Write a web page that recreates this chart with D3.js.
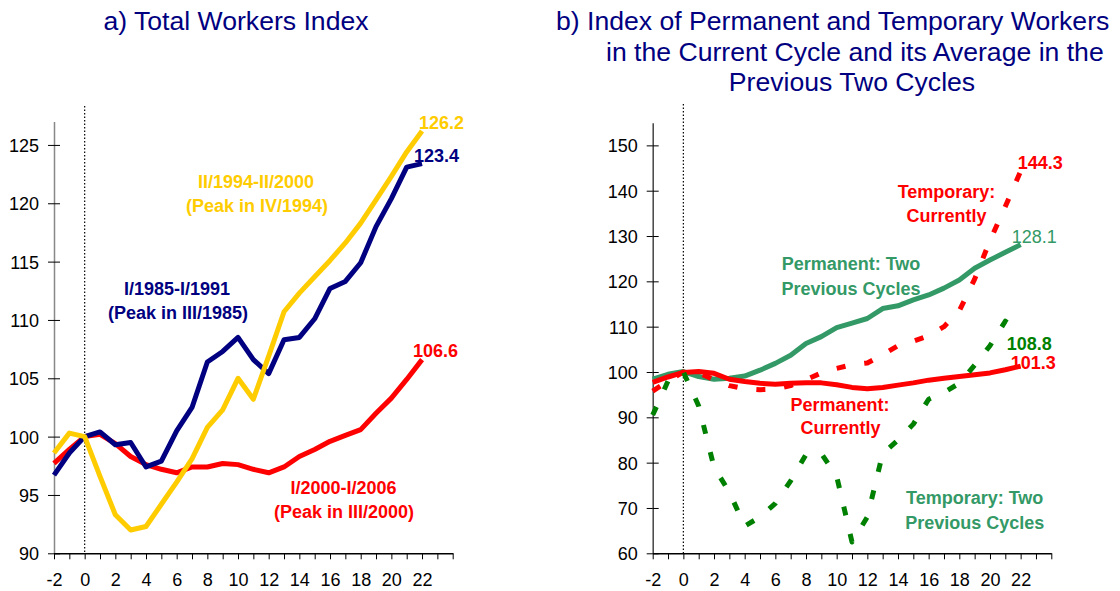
<!DOCTYPE html>
<html>
<head>
<meta charset="utf-8">
<script src="https://cdn.jsdelivr.net/npm/d3@7"></script>
<style>
  html, body { margin: 0; padding: 0; background: #fff; }
  svg text { font-family: "Liberation Sans", Arial, sans-serif; }
</style>
</head>
<body>
<svg id="chart" width="1120" height="591"></svg>
<script>
// ---------- DATA ----------
const quarters = d3.range(-2, 23);           // -2 .. 22
const xTickLabels = [-2, 0, 2, 4, 6, 8, 10, 12, 14, 16, 18, 20, 22];

// Panel a: total workers index
const cycle1985 = [96.7, 98.6, 100.0, 100.4, 99.3, 99.5, 97.4, 97.9, 100.5, 102.5, 106.4, 107.3, 108.5, 106.6, 105.4, 108.3, 108.5, 110.1, 112.7, 113.3, 114.9, 118.0, 120.4, 123.1, 123.4];
const cycle1994 = [98.6, 100.3, 100.0, 96.6, 93.3, 92.0, 92.3, 94.2, 96.1, 98.1, 100.8, 102.3, 105.0, 103.2, 106.9, 110.7, 112.3, 113.7, 115.1, 116.6, 118.3, 120.3, 122.3, 124.4, 126.2];
const cycle2000 = [97.7, 98.9, 100.0, 100.2, 99.4, 98.3, 97.6, 97.2, 96.9, 97.4, 97.4, 97.7, 97.6, 97.2, 96.9, 97.4, 98.3, 98.9, 99.6, 100.1, 100.6, 102.0, 103.3, 104.9, 106.6];
const yTicksA = [90, 95, 100, 105, 110, 115, 120, 125];

// Panel b: permanent and temporary workers
const permCurrent = [97.7, 98.9, 99.9, 100.1, 99.7, 98.4, 97.9, 97.5, 97.3, 97.5, 97.6, 97.6, 97.2, 96.6, 96.3, 96.6, 97.1, 97.6, 98.2, 98.6, 99.0, 99.4, 99.8, 100.5, 101.3];
const permPrevious = [98.4, 99.5, 100.1, 99.0, 98.4, 98.6, 99.1, 100.4, 101.9, 103.7, 106.3, 107.8, 109.8, 110.8, 111.8, 114.0, 114.6, 115.9, 117.0, 118.5, 120.3, 122.9, 124.7, 126.4, 128.1];
const tempCurrent = [95.8, 98.0, 100.0, 99.8, 98.3, 97.0, 96.3, 96.1, 96.2, 97.0, 98.3, 99.8, 100.8, 101.6, 102.0, 103.8, 105.8, 106.8, 108.0, 110.0, 113.5, 120.5, 129.0, 136.5, 144.3];
const tempPrevious = [90.5, 98.0, 100.0, 92.5, 79.0, 73.5, 66.0, 68.0, 71.0, 76.0, 81.8, 82.0, 77.0, 62.5, 68.0, 82.0, 85.0, 88.5, 94.0, 95.5, 97.5, 101.5, 105.8, 111.2, 108.8];
const yTicksB = [60, 70, 80, 90, 100, 110, 120, 130, 140, 150];

// ---------- DRAWING ----------
const svg = d3.select("#chart");
const FONT = 18;

function drawAxes(cfg) {
  const g = svg.append("g");
  const x = d3.scaleLinear().domain([-2, 24]).range([cfg.x0, cfg.x1]);
  const y = d3.scaleLinear().domain(cfg.yDomain).range([cfg.yBottom, cfg.yTop]);

  const ya = g.append("g").attr("transform", `translate(${cfg.x0},0)`)
    .call(d3.axisLeft(y).tickValues(cfg.yTicks).tickSizeInner(5).tickSizeOuter(0).tickPadding(10));
  ya.select(".domain").attr("stroke", cfg.yAxisColor).attr("stroke-width", 1.5);
  ya.selectAll(".tick line").attr("stroke", "#000").attr("x2", -6);
  ya.selectAll(".tick").append("line").attr("x1", 0).attr("x2", 6).attr("stroke", "#000");
  ya.selectAll(".tick text").attr("font-size", FONT).attr("fill", "#000")
    .attr("font-family", "Liberation Sans, Arial, sans-serif").attr("dy", "0.36em");

  const xa = g.append("g").attr("transform", `translate(0,${cfg.yBottom})`)
    .call(d3.axisBottom(x).tickValues(d3.range(-2, 25)).tickSizeInner(6).tickSizeOuter(0)
      .tickFormat(d => xTickLabels.includes(d) ? String(d) : ""));
  xa.select(".domain").attr("stroke", "#000").attr("stroke-width", 1.5);
  xa.selectAll(".tick line").attr("stroke", "#000");
  xa.selectAll(".tick text").attr("font-size", FONT).attr("fill", "#000")
    .attr("font-family", "Liberation Sans, Arial, sans-serif").attr("y", 33).attr("dy", 0);

  g.append("line").attr("x1", x(0)).attr("x2", x(0))
    .attr("y1", cfg.dotTop).attr("y2", cfg.yBottom)
    .attr("stroke", "#000").attr("stroke-width", 1.2).attr("stroke-dasharray", "1.5,2");
  return { x, y };
}

function drawLine(sc, values, color, dash) {
  const line = d3.line().x((d, i) => sc.x(quarters[i])).y(d => sc.y(d));
  const p = svg.append("path").datum(values)
    .attr("d", line).attr("fill", "none").attr("stroke", color)
    .attr("stroke-width", 5).attr("stroke-linejoin", "round");
  if (dash) p.attr("stroke-dasharray", dash).attr("stroke-linecap", "butt");
}

function label(x, y, text, color, anchor, weight) {
  svg.append("text").attr("x", x).attr("y", y).text(text)
    .attr("fill", color).attr("font-size", FONT)
    .attr("font-weight", weight || "bold")
    .attr("text-anchor", anchor || "middle");
}

// Panel a
const scA = drawAxes({ x0: 54, x1: 452.7, yDomain: [90, 127], yBottom: 553.3, yTop: 121.6,
  yTicks: yTicksA, yAxisColor: "#888", dotTop: 106 });
drawLine(scA, cycle2000, "#FF0000");
drawLine(scA, cycle1985, "#000080");
drawLine(scA, cycle1994, "#FFCC00");

// Panel b
const scB = drawAxes({ x0: 652.7, x1: 1051.3, yDomain: [60, 155], yBottom: 553.3, yTop: 122.7,
  yTicks: yTicksB, yAxisColor: "#444", dotTop: 104 });
drawLine(scB, permPrevious, "#339966");
drawLine(scB, permCurrent, "#FF0000");
drawLine(scB, tempCurrent, "#FF0000", "9,19");
drawLine(scB, tempPrevious, "#008000", "9,19");

// Titles
svg.append("text").attr("x", 236).attr("y", 30).attr("text-anchor", "middle")
  .attr("font-size", 26.6).attr("fill", "#000080").text("a) Total Workers Index");
const titleB = ["b) Index of Permanent and Temporary Workers",
                "in the Current Cycle and its Average in the",
                "Previous Two Cycles"];
const titleBX = [556, 606, 852];
const titleBAnchor = ["start", "start", "middle"];
titleB.forEach((t, i) => {
  svg.append("text").attr("x", titleBX[i]).attr("y", 30 + i * 30.5)
    .attr("text-anchor", titleBAnchor[i])
    .attr("font-size", 26.6).attr("fill", "#000080").text(t);
});

// Panel a annotations
label(256, 188, "II/1994-II/2000", "#FFCC00");
label(257, 212, "(Peak in IV/1994)", "#FFCC00");
label(177, 295, "I/1985-I/1991", "#000080");
label(178, 319, "(Peak in III/1985)", "#000080");
label(343.5, 494, "I/2000-I/2006", "#FF0000");
label(344, 518, "(Peak in III/2000)", "#FF0000");
label(419, 129, "126.2", "#FFCC00", "start");
label(414, 162, "123.4", "#000080", "start");
label(413, 357, "106.6", "#FF0000", "start");

// Panel b annotations
label(1017.7, 168.5, "144.3", "#FF0000", "start");
label(946.5, 197.5, "Temporary:", "#FF0000");
label(946.5, 222, "Currently", "#FF0000");
label(1011.7, 243, "128.1", "#339966", "start", "normal");
label(851, 270, "Permanent: Two", "#339966");
label(851, 295, "Previous Cycles", "#339966");
label(1006.7, 350, "108.8", "#008000", "start");
label(1010.7, 368.5, "101.3", "#FF0000", "start");
label(840, 411, "Permanent:", "#FF0000");
label(840.5, 434, "Currently", "#FF0000");
label(974.7, 504, "Temporary: Two", "#339966");
label(974.7, 528.5, "Previous Cycles", "#339966");
</script>
</body>
</html>
